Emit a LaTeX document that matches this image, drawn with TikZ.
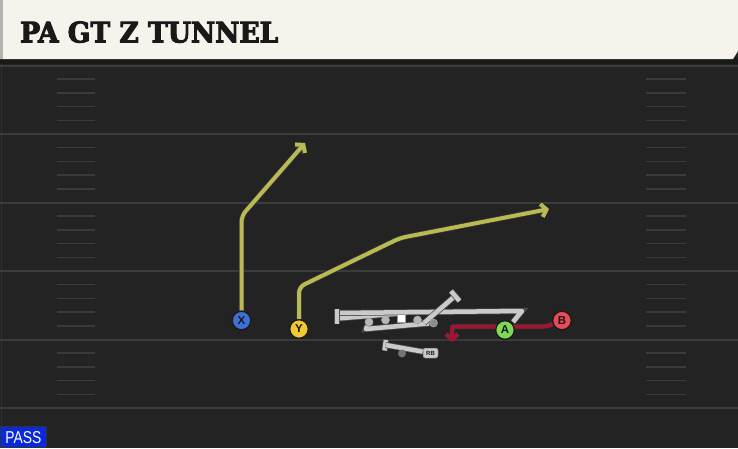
\documentclass[tikz,border=0pt]{standalone}
\usepackage{fontspec}
\usetikzlibrary{arrows.meta}
\newfontfamily\titlefont[FakeBold=3.5]{DejaVu Serif Condensed}
\newfontfamily\labelfont{Liberation Sans}
\definecolor{fieldbg}{RGB}{35,35,35}
\definecolor{titlebg}{RGB}{245,243,236}
\definecolor{yardline}{RGB}{60,60,60}
\definecolor{hashc}{RGB}{58,58,58}
\definecolor{routec}{RGB}{186,186,84}
\definecolor{redroute}{RGB}{160,22,50}
\definecolor{blockc}{RGB}{202,202,202}
\definecolor{xblue}{RGB}{62,110,214}
\definecolor{yyellow}{RGB}{242,200,50}
\definecolor{agreen}{RGB}{126,217,87}
\definecolor{bred}{RGB}{232,74,90}
\definecolor{passblue}{RGB}{10,40,220}
\definecolor{darktxt}{RGB}{25,25,25}
\pgfdeclarelayer{fieldlayer}
\pgfdeclarelayer{routelayer}
\pgfsetlayers{fieldlayer,routelayer,main}
\tikzset{
  player/.style={circle, draw=darktxt, line width=1.2pt, minimum size=18.5pt, inner sep=0pt,
    font=\labelfont\bfseries\fontsize{11.5}{11.5}\selectfont, text=darktxt},
  route/.style={draw=routec, line width=4pt, rounded corners=6pt,
    -{Straight Barb[length=5pt,width=13pt]},
    preaction={draw=black!80, line width=5.5pt, -{Straight Barb[length=5pt,width=13pt]}}},
  redpath/.style={draw=redroute, line width=4pt, rounded corners=2pt,
    -{Straight Barb[length=5pt,width=12pt]}},
  block/.style={draw=blockc, line width=4.5pt, line cap=butt, line join=round,
    preaction={draw=black!70, line width=6pt}},
  olspot/.style={circle, fill=blockc!90!black, draw=black!35, line width=0.6pt, minimum size=8pt, inner sep=0pt},
  hashmark/.style={draw=hashc, line width=1.5pt},
  yard/.style={draw=yardline, line width=2pt},
}
\begin{document}
\begin{tikzpicture}[x=1pt,y=-1pt]
\useasboundingbox (0,0) rectangle (738,448);
\begin{pgfonlayer}{fieldlayer}
  \fill[fieldbg] (0,0) rectangle (738,448);
  \fill[black!90] (0,58) rectangle (738,64);
  \draw[black!70!white, line width=0.8pt, opacity=0.3] (1,64) -- (1,448);
  % yard lines
  \foreach \yy in {65.5,134,202.5,271,339.5,408}
    \draw[yard] (0,\yy) -- (738,\yy);
  % hash marks
  \foreach \base in {65.5,134,202.5,271,339.5}
    \foreach \k in {1,2,3,4} {
      \draw[hashmark] (57,\base+13.7*\k) -- (95,\base+13.7*\k);
      \draw[hashmark] (646,\base+13.7*\k) -- (686,\base+13.7*\k);
    }
  % title bar
  \fill[titlebg] (0,0) -- (738,0) -- (738,51) -- (733,59) -- (0,59) -- cycle;
  \fill[black!30] (0,0) rectangle (3,59);
  \node[anchor=south west, inner sep=0pt, text=darktxt] (title) at (20,43)
    {\resizebox{258pt}{21pt}{\titlefont\bfseries PA GT Z TUNNEL}};
  % PASS label
  \node[anchor=south west, fill=passblue, draw=black!80, line width=0.8pt,
        minimum width=46pt, minimum height=21pt, inner sep=0pt, text=white] (pass) at (0,448)
    {\resizebox{36pt}{12pt}{\labelfont PASS}};
\end{pgfonlayer}

% players
\node[player, fill=xblue] (X) at (241.5,320.5) {X};
\node[player, fill=yyellow] (Y) at (299,329) {Y};
\node[player, fill=agreen] (A) at (505,330) {A};
\node[player, fill=bred] (B) at (562,320.5) {B};

% route waypoints
\coordinate (x1) at (241.5,216);
\coordinate (x2) at (305,143);
\coordinate (y1) at (299,287);
\coordinate (y2) at (400,238);
\coordinate (y3) at (549,209);
\coordinate (b1) at (546,326.5);
\coordinate (b2) at (452,326.5);
\coordinate (b3) at (452,342);

% OL spots
\node[olspot] (o1) at (369,322) {};
\node[olspot] (o2) at (385.5,320) {};
\node[draw=black!40, fill=white, minimum size=8pt, inner sep=0pt, line width=0.6pt] (c) at (401,318.5) {};
\node[olspot] (o4) at (417.5,320) {};
\node[olspot, fill=black!45] (o5) at (433.5,323) {};
\node[circle, fill=black!55, minimum size=8pt, inner sep=0pt] (rbdot) at (402,353.5) {};
\node[rounded corners=2pt, fill=blockc, draw=black!60, line width=0.5pt, minimum width=15pt, minimum height=10pt,
      inner sep=0pt, font=\labelfont\bfseries\fontsize{6}{6}\selectfont, text=darktxt] (RB) at (430.5,353) {RB};

% blocking coordinates
\coordinate (t1a) at (337,308.5);
\coordinate (t1b) at (337,323.5);
\coordinate (t1m) at (337,313);
\coordinate (t1n) at (337,318.5);
\coordinate (l1) at (522,311);
\coordinate (l2) at (513,322);
\coordinate (l3) at (405,313);
\coordinate (d0) at (424,323);
\coordinate (d1) at (455,296);
\coordinate (d1a) at (451,291);
\coordinate (d1b) at (459.5,301);
\coordinate (r1a) at (386,340);
\coordinate (r1b) at (384.5,350.5);
\coordinate (r1m) at (385.5,345);
\coordinate (lw) at (366,329);

\begin{pgfonlayer}{routelayer}
  \draw[route] (X) -- (x1) -- (x2);
  \draw[route] (Y) -- (y1) -- (y2) -- (y3);
  \draw[redpath, preaction={draw=black!80, line width=5pt}] (B) -- (b1) -- (b2) -- (b3);
  % blocking
  \draw[block] (t1n) -- (l3);
  \draw[block] (t1m) -- (l1) -- (l2);
  \draw[block] (t1a) -- (t1b);
  \draw[block] (o1) -- (lw) -- (o5);
  \draw[block] (d0) -- (d1);
  \draw[block] (d1a) -- (d1b);
  \draw[block] (r1a) -- (r1b);
  \draw[block] (r1m) -- (RB);
\end{pgfonlayer}
\end{tikzpicture}
\end{document}
